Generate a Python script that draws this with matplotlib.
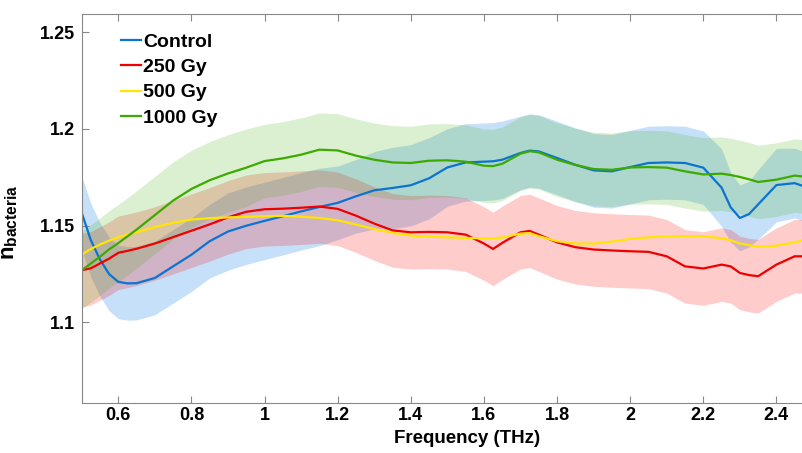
import matplotlib
matplotlib.use("Agg")
import matplotlib.pyplot as plt
import numpy as np

plt.rcParams['font.family'] = ['Liberation Sans', 'DejaVu Sans']
plt.rcParams['font.weight'] = 'bold'
plt.rcParams['mathtext.fontset'] = 'custom'
plt.rcParams['mathtext.rm'] = 'Liberation Sans:bold'
plt.rcParams['mathtext.bf'] = 'Liberation Sans:bold'

# frequency grid (THz), a bit denser where the curves wiggle
freq = [0.50, 0.525, 0.55, 0.575, 0.60, 0.625, 0.65, 0.70, 0.75, 0.80, 0.85, 0.90, 0.95,
        1.00, 1.05, 1.10, 1.15, 1.20, 1.25, 1.30, 1.35, 1.40, 1.45, 1.50, 1.55, 1.60,
        1.625, 1.65, 1.70, 1.725,
        1.75, 1.80, 1.85, 1.90, 1.95, 2.00, 2.05, 2.10, 2.15, 2.20, 2.25,
        2.275, 2.30, 2.325, 2.35, 2.40, 2.45, 2.47]

control = [1.1566, 1.1425, 1.1325, 1.125, 1.121, 1.1202, 1.1203, 1.123, 1.129, 1.135, 1.142, 1.147, 1.150,
           1.1525, 1.1549, 1.1574, 1.1597, 1.1618, 1.1652, 1.1683, 1.1695, 1.1709, 1.1745, 1.1801, 1.1827, 1.1831,
           1.1833, 1.1841, 1.1876, 1.1888,
           1.1884, 1.185, 1.1815, 1.1786, 1.1781, 1.1803, 1.1824, 1.1827, 1.1824, 1.180, 1.1697,
           1.1595, 1.154, 1.156, 1.161, 1.171, 1.172, 1.1707]
control_std = [0.019, 0.019, 0.019, 0.019, 0.019, 0.019, 0.019, 0.019, 0.019, 0.019, 0.019, 0.020, 0.020,
               0.020, 0.020, 0.020, 0.020, 0.019, 0.019, 0.020, 0.021, 0.021, 0.021, 0.020, 0.020, 0.020,
               0.020, 0.020, 0.019, 0.019,
               0.019, 0.019, 0.019, 0.019, 0.019, 0.019, 0.019, 0.019, 0.019, 0.019, 0.020,
               0.018, 0.017, 0.017, 0.018, 0.019, 0.018, 0.018]

gy250 = [1.127, 1.128, 1.1305, 1.133, 1.136, 1.137, 1.1381, 1.1408, 1.1441, 1.1474, 1.1507, 1.1543, 1.1572,
         1.1585, 1.1588, 1.1593, 1.1599, 1.1587, 1.1552, 1.1511, 1.1476, 1.1466, 1.1468, 1.1466, 1.1454, 1.1408,
         1.138, 1.1411, 1.1466, 1.1473,
         1.1454, 1.1414, 1.1389, 1.1377, 1.1372, 1.1368, 1.1365, 1.1342, 1.129, 1.1279, 1.1299,
         1.129, 1.1256, 1.1245, 1.1239, 1.1299, 1.1342, 1.1342]
gy250_std = [0.019] * len(freq)

gy500 = [1.1351, 1.138, 1.1403, 1.1423, 1.144, 1.1455, 1.1466, 1.1493, 1.1515, 1.1532, 1.1539, 1.1543, 1.1546,
         1.1549, 1.1551, 1.1547, 1.154, 1.1528, 1.1506, 1.1483, 1.1463, 1.1449, 1.1444, 1.144, 1.1437, 1.1435,
         1.1435, 1.1439, 1.1459, 1.1462,
         1.1446, 1.142, 1.1408, 1.1408, 1.1418, 1.1432, 1.144, 1.1444, 1.1446, 1.1446, 1.1435,
         1.1425, 1.1408, 1.140, 1.1391, 1.1397, 1.1414, 1.1423]

gy1000 = [1.127, 1.1305, 1.134, 1.1378, 1.141, 1.1445, 1.148, 1.1555, 1.163, 1.169, 1.1735, 1.177, 1.180,
          1.1834, 1.1848, 1.1867, 1.1893, 1.1889, 1.1862, 1.1841, 1.1827, 1.1824, 1.1836, 1.1838, 1.1831, 1.181,
          1.1808, 1.182, 1.1872, 1.1885,
          1.1879, 1.1841, 1.1814, 1.1793, 1.1789, 1.1801, 1.1803, 1.180, 1.1781, 1.1765, 1.1769,
          1.1762, 1.1752, 1.174, 1.1726, 1.1738, 1.1759, 1.1755]
gy1000_std = [0.020] * 13 + [0.019] * (len(freq) - 13)

labels = ['Control', '250 Gy', '500 Gy', '1000 Gy']
colors = ['#0A74D0', '#EE0000', '#FFE600', '#3DAA00']

x_ticks = [0.6, 0.8, 1.0, 1.2, 1.4, 1.6, 1.8, 2.0, 2.2, 2.4]
x_ticklabels = ['0.6', '0.8', '1', '1.2', '1.4', '1.6', '1.8', '2', '2.2', '2.4']
y_ticks = [1.1, 1.15, 1.2, 1.25]
y_ticklabels = ['1.1', '1.15', '1.2', '1.25']

fig = plt.figure(figsize=(8.02, 4.53), dpi=100)
ax = fig.add_axes([0.1019, 0.1104, 0.8981, 0.8587])

f = np.array(freq)
bands = [(control, control_std, '#0A7DE6', 0.23),
         (gy250, gy250_std, '#FF0000', 0.20),
         (gy1000, gy1000_std, '#3CAA00', 0.18)]
for mean, std, c, a in bands:
    m = np.array(mean)
    s = np.array(std)
    ax.fill_between(f, m - s, m + s, color=c, alpha=a, linewidth=0)

for series, lab, c in zip([control, gy250, gy500, gy1000], labels, colors):
    ax.plot(f, series, color=c, lw=1.6, label=lab)

ax.set_xlim(0.5, 2.47)
ax.set_ylim(1.0584, 1.2594)
ax.set_xticks(x_ticks)
ax.set_xticklabels(x_ticklabels)
ax.set_yticks(y_ticks)
ax.set_yticklabels(y_ticklabels)
ax.tick_params(direction='in', length=5, width=0.8, color='#888888',
               labelsize=13, top=True, right=False)
ax.tick_params(axis='x', pad=3)
ax.tick_params(axis='y', pad=5)
for side in ['left', 'bottom', 'top']:
    ax.spines[side].set_color('#888888')
    ax.spines[side].set_linewidth(0.8)
ax.spines['right'].set_visible(False)

ax.set_xlabel('Frequency (THz)', fontsize=13.5, fontweight='bold')
ax.xaxis.set_label_coords(0.535, -0.07)
ax.set_ylabel(r'$\mathrm{n}_{\mathrm{bacteria}}$', fontsize=16)
ax.yaxis.set_label_coords(-0.086, 0.465)

leg = ax.legend(loc='upper left', bbox_to_anchor=(0.054, 0.951), frameon=False,
                fontsize=14, handlelength=1.05, handletextpad=0.1,
                labelspacing=0.4, borderpad=0, borderaxespad=0)

fig.savefig('out.png', dpi=100)
